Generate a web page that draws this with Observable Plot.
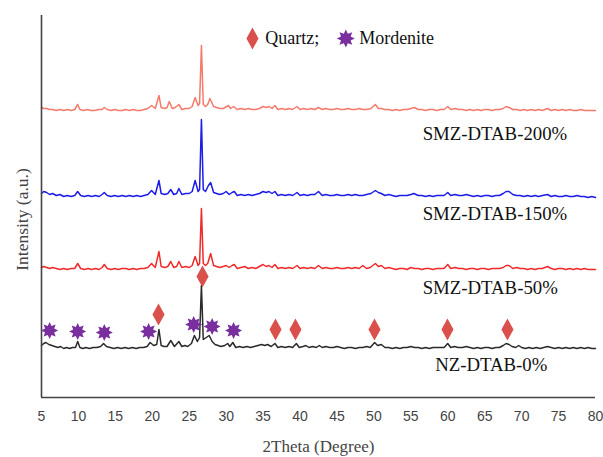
<!DOCTYPE html>
<html>
<head>
<meta charset="utf-8">
<script src="https://cdn.jsdelivr.net/npm/d3@7"></script>
<script src="https://cdn.jsdelivr.net/npm/@observablehq/plot@0.6"></script>
<style>
  html, body { margin: 0; padding: 0; background: #ffffff; }
  #chart svg { display: block; }
</style>
</head>
<body>
<div id="chart"></div>
<script>
// ---- Data (2θ in degrees, intensity in arbitrary units incl. vertical offset) ----
const xTicks = [5, 10, 15, 20, 25, 30, 35, 40, 45, 50, 55, 60, 65, 70, 75, 80];

const seriesNames = ["NZ-DTAB-0%", "SMZ-DTAB-50%", "SMZ-DTAB-150%", "SMZ-DTAB-200%"];

const nz0 = [[5,52],[5.3,54],[5.6,55],[6,53],[6.4,52],[6.8,51],[7.2,50],[7.6,51],[8,49],[8.4,50],[8.8,49],[9.2,50],[9.6,50],[9.9,56],[10.2,50],[10.6,49],[11,50],[11.5,49],[12,50],[12.5,50],[13,51],[13.4,54],[13.8,51],[14.3,50],[14.8,49],[15.3,50],[15.8,49],[16.3,50],[16.8,49],[17.3,50],[17.8,49],[18.3,50],[18.8,50],[19.3,51],[19.7,55],[20.2,52],[20.6,53],[20.9,68],[21.2,52],[21.6,51],[22,51],[22.5,57],[23,51],[23.6,56],[24,51],[24.4,52],[24.8,51],[25.3,54],[25.7,62],[26.1,56],[26.4,60],[26.65,112],[26.9,58],[27.3,60],[27.7,62],[28.1,56],[28.5,53],[28.9,52],[29.3,51],[29.8,52],[30.2,54],[30.5,51],[30.9,55],[31.3,50],[31.8,51],[32.3,50],[32.8,51],[33.3,50],[33.8,51],[34.3,52],[34.8,53],[35.2,52],[35.6,53],[36.1,51],[36.6,54],[37,50],[37.5,51],[38,50],[38.5,51],[39,50],[39.5,54],[39.9,50],[40.4,51],[40.8,52],[41.2,50],[41.7,51],[42.2,50],[42.6,52],[43,50],[43.5,51],[44,50],[44.5,50],[45,51],[45.5,50],[46,49],[46.5,50],[47,50],[47.5,49],[48,50],[48.5,50],[49,51],[49.5,50],[50.1,55],[50.5,52],[51,53],[51.5,50],[52,50],[52.5,49],[53,50],[53.5,49],[54,50],[54.5,50],[55,51],[55.5,50],[56,50],[56.5,49],[57,50],[57.5,49],[58,50],[58.5,50],[59,50],[59.5,50],[60,54],[60.4,50],[60.9,51],[61.4,50],[62,50],[62.5,51],[63,50],[63.5,49],[64,50],[64.5,49],[65,50],[65.5,50],[66,49],[66.5,50],[67,50],[67.5,52],[67.9,54],[68.3,53],[68.7,51],[69.2,50],[69.6,52],[70,50],[70.5,49],[71,50],[71.5,49],[72,50],[72.5,49],[73,50],[73.5,51],[74,50],[74.5,49],[75,50],[75.5,49],[76,50],[76.5,49],[77,50],[77.5,49],[78,50],[78.5,49],[79,50],[79.5,49],[80,49]];

const smz50 = [[5,130],[5.3,131],[5.7,130],[6.1,129],[6.5,130],[7,129],[7.5,128],[8,129],[8.5,128],[9,129],[9.5,129],[9.9,134],[10.3,129],[10.8,128],[11.3,129],[11.8,128],[12.3,129],[12.8,128],[13.2,130],[13.5,133],[13.9,129],[14.4,128],[14.9,129],[15.4,128],[15.9,129],[16.4,129],[16.9,128],[17.4,129],[17.9,128],[18.4,129],[18.9,129],[19.4,130],[19.9,134],[20.4,130],[20.9,146],[21.2,131],[21.7,130],[22.1,131],[22.5,136],[22.9,130],[23.3,131],[23.6,136],[24,130],[24.5,131],[25,130],[25.4,132],[25.8,141],[26.2,132],[26.4,134],[26.65,189],[26.9,134],[27.2,132],[27.5,134],[27.9,144],[28.3,132],[28.7,131],[29.1,130],[29.6,131],[30,132],[30.4,130],[30.8,132],[31.1,133],[31.5,129],[32,130],[32.5,131],[33,129],[33.5,130],[34,129],[34.5,131],[35,133],[35.4,131],[35.8,132],[36.2,130],[36.6,133],[37,129],[37.5,130],[38,129],[38.5,130],[39,129],[39.6,132],[40,129],[40.5,130],[41,129],[41.5,130],[42,129],[42.5,132],[43,129],[43.5,130],[44,129],[44.5,129],[45,130],[45.5,129],[46,129],[46.5,130],[47,129],[47.5,130],[48,129],[48.5,132],[49,129],[49.5,130],[50.2,134],[50.6,131],[51,132],[51.5,129],[52,130],[52.5,129],[53,128],[53.5,129],[54,129],[54.5,128],[55,130],[55.5,129],[56,129],[56.5,128],[57,129],[57.5,129],[58,128],[58.5,129],[59,129],[59.5,129],[60,133],[60.4,129],[61,130],[61.5,129],[62,129],[62.5,128],[63,129],[63.5,129],[64,128],[64.5,129],[65,129],[65.5,128],[66,129],[66.5,129],[67,129],[67.5,130],[67.9,132],[68.3,132],[68.8,129],[69.3,130],[69.8,129],[70.3,129],[70.8,128],[71.3,129],[71.8,128],[72.3,129],[72.8,129],[73.5,131],[74,129],[74.5,128],[75,129],[75.5,129],[76,128],[76.5,129],[77,128],[77.5,129],[78,128],[78.5,129],[79,128],[79.5,128],[80,128]];

const smz150 = [[5,204],[5.3,206],[5.7,205],[6.1,203],[6.5,204],[7,202],[7.5,203],[8,201],[8.5,202],[9,201],[9.5,202],[9.9,206],[10.3,202],[10.8,201],[11.3,202],[11.8,201],[12.3,202],[12.8,201],[13.2,203],[13.5,205],[13.9,202],[14.4,201],[14.9,202],[15.4,201],[15.9,202],[16.4,201],[16.9,202],[17.4,201],[17.9,202],[18.4,201],[18.9,202],[19.4,203],[19.9,207],[20.4,203],[20.9,217],[21.2,204],[21.7,203],[22.1,204],[22.5,208],[22.9,203],[23.3,204],[23.6,209],[24,203],[24.5,204],[25,204],[25.4,206],[25.8,217],[26.2,206],[26.4,208],[26.65,278],[26.9,208],[27.2,206],[27.6,212],[27.9,215],[28.3,205],[28.7,204],[29.1,203],[29.6,204],[30,206],[30.4,203],[30.8,205],[31.1,206],[31.5,202],[32,203],[32.5,202],[33,203],[33.5,202],[34,203],[34.5,204],[35,206],[35.4,205],[35.8,206],[36.2,204],[36.6,206],[37,202],[37.5,203],[38,202],[38.5,203],[39,202],[39.6,205],[40,202],[40.5,203],[41,202],[41.5,203],[42,203],[42.5,206],[43,202],[43.5,203],[44,202],[44.5,202],[45,203],[45.5,202],[46,202],[46.5,203],[47,202],[47.5,203],[48,202],[48.5,202],[49,203],[49.6,204],[50.2,207],[50.6,205],[51,204],[51.5,202],[52,203],[52.5,202],[53,201],[53.5,202],[54,202],[54.5,202],[55,203],[55.4,204],[56,202],[56.5,202],[57,201],[57.5,202],[58,201],[58.5,202],[59,202],[59.5,202],[60,205],[60.4,202],[61,203],[61.5,202],[62,202],[62.5,203],[63,202],[63.5,201],[64,202],[64.5,201],[65,202],[65.5,202],[66,201],[66.5,202],[67,202],[67.5,204],[67.9,206],[68.3,206],[68.8,203],[69.3,202],[69.8,202],[70.3,201],[70.8,202],[71.3,201],[71.8,202],[72.3,201],[72.8,202],[73.5,203],[74,201],[74.5,202],[75,201],[75.5,201],[76,202],[76.5,201],[77,201],[77.5,202],[78,201],[78.5,201],[79,200],[79.5,201],[80,200]];

const smz200 = [[5,290],[5.3,289],[5.7,289],[6.1,288],[6.5,288],[7,287],[7.5,288],[8,287],[8.5,288],[9,287],[9.5,288],[9.9,293],[10.2,288],[10.7,287],[11.2,288],[11.7,287],[12.2,287],[12.7,288],[13.2,288],[13.5,290],[13.9,288],[14.4,287],[14.9,288],[15.4,287],[15.9,287],[16.4,288],[16.9,287],[17.4,288],[17.9,287],[18.4,287],[18.9,288],[19.4,289],[19.9,292],[20.4,289],[20.9,302],[21.2,290],[21.7,289],[22,290],[22.3,296],[22.7,289],[23.1,290],[23.6,293],[24,288],[24.5,289],[25,289],[25.4,291],[25.8,300],[26.2,292],[26.4,294],[26.65,352],[26.9,293],[27.2,291],[27.5,293],[27.8,299],[28.3,291],[28.7,290],[29.1,289],[29.6,289],[30.3,292],[30.6,289],[31,291],[31.5,288],[32,289],[32.5,288],[33,289],[33.5,288],[34,288],[34.5,289],[35,291],[35.4,290],[35.8,291],[36.2,289],[36.6,292],[37,288],[37.5,289],[38,288],[38.5,289],[39,288],[39.6,291],[40,288],[40.5,289],[41,288],[41.5,289],[42,288],[42.5,290],[43,288],[43.5,289],[44,288],[44.5,288],[45,289],[45.5,288],[46,288],[46.5,289],[47,288],[47.5,288],[48,289],[48.5,288],[49,288],[49.6,289],[50.2,293],[50.6,289],[51,289],[51.5,288],[52,288],[52.5,287],[53,288],[53.5,287],[54,288],[54.5,288],[55,289],[55.5,290],[56,288],[56.5,288],[57,287],[57.5,288],[58,288],[58.5,287],[59,288],[59.5,288],[60,291],[60.4,288],[61,289],[61.5,288],[62,288],[62.5,287],[63,288],[63.5,287],[64,288],[64.5,287],[65,288],[65.5,288],[66,287],[66.5,288],[67,288],[67.5,289],[67.9,291],[68.3,290],[68.8,288],[69.3,288],[69.8,287],[70.3,288],[70.8,287],[71.3,288],[71.8,287],[72.3,288],[72.8,287],[73.5,289],[74,287],[74.5,288],[75,287],[75.5,288],[76,287],[76.5,288],[77,287],[77.5,287],[78,288],[78.5,287],[79,287],[79.5,287],[80,287]];

// Phase markers on the NZ-DTAB-0% pattern
const quartzTheta = [20.84, 26.8, 36.68, 39.38, 50.08, 59.96, 68.08];
const quartzLevel = [83, 121, 68, 68, 68, 68, 68];
const mordeniteTheta = [6.1, 9.9, 13.5, 19.5, 25.6, 28.1, 31.0];
const mordeniteLevel = [67, 66, 65, 66, 73, 71, 67];

const legendNames = ["Quartz;", "Mordenite"];

// ---- Layout / style (kept separate from values) ----
const colors = {"NZ-DTAB-0%": "#2a2a2a", "SMZ-DTAB-50%": "#f02a2a", "SMZ-DTAB-150%": "#1c1ce8", "SMZ-DTAB-200%": "#f57a6c"};
const labelPos = {"NZ-DTAB-0%": [58.3, 33], "SMZ-DTAB-50%": [56.6, 110], "SMZ-DTAB-150%": [56.6, 184], "SMZ-DTAB-200%": [56.6, 264]};
const serif = "'Liberation Serif', 'Times New Roman', serif";
const sans = "'Liberation Sans', Arial, sans-serif";

const seriesData = [nz0, smz50, smz150, smz200];
const rows = [];
seriesData.forEach((arr, i) => arr.forEach(([t, v]) => rows.push({series: seriesNames[i], theta: t, intensity: v})));

const quartz = quartzTheta.map((t, i) => ({theta: t, level: quartzLevel[i]}));
const mordenite = mordeniteTheta.map((t, i) => ({theta: t, level: mordeniteLevel[i]}));
const labels = seriesNames.map(n => ({name: n, theta: labelPos[n][0], level: labelPos[n][1]}));

// custom symbols
const tallDiamond = {
  draw(ctx, size) {
    const r = Math.sqrt(size / Math.PI);
    const w = r * 0.55;
    ctx.moveTo(0, -r); ctx.lineTo(w, 0); ctx.lineTo(0, r); ctx.lineTo(-w, 0); ctx.closePath();
  }
};
const star8 = {
  draw(ctx, size) {
    const R = Math.sqrt(size / Math.PI);
    const ri = R * 0.58;
    const n = 8;
    for (let k = 0; k < 2 * n; k++) {
      const a = (k * Math.PI) / n - Math.PI / 2;
      const rr = k % 2 === 0 ? R : ri;
      const px = rr * Math.cos(a), py = rr * Math.sin(a);
      if (k === 0) ctx.moveTo(px, py); else ctx.lineTo(px, py);
    }
    ctx.closePath();
  }
};

const diamondColor = "#d9504c";
const starColor = "#7a2f9e";

const legendRow = [
  {kind: "q", theta: 33.56, level: 359, text: legendNames[0], ttheta: 35.3},
  {kind: "m", theta: 46.2, level: 359, text: legendNames[1], ttheta: 48.0}
];

const chart = Plot.plot({
  width: 603,
  height: 457,
  marginLeft: 41,
  marginRight: 8,
  marginTop: 15,
  marginBottom: 60,
  style: {background: "transparent"},
  x: {domain: [5, 80]},
  y: {domain: [0, 382], axis: null},
  marks: [
    Plot.axisX({ticks: xTicks, tickSize: 0, tickPadding: 14, fontSize: 14, fontFamily: sans, fill: "#444", tickFormat: d => String(d), label: null}),
    Plot.line(rows, {x: "theta", y: "intensity", z: "series", stroke: d => colors[d.series], strokeWidth: 1.5, strokeLinejoin: "round", curve: "linear"}),
    Plot.ruleX([5], {y1: 0, y2: 382, stroke: "#444", strokeWidth: 1.6}),
    Plot.ruleY([0], {x1: 5, x2: 80, stroke: "#444", strokeWidth: 1.6}),
    Plot.dot(quartz, {x: "theta", y: "level", symbol: tallDiamond, r: 11, fill: diamondColor, stroke: "none"}),
    Plot.dot(mordenite, {x: "theta", y: "level", symbol: star8, r: 8.5, fill: starColor, stroke: "none"}),
    Plot.dot(legendRow.filter(d => d.kind === "q"), {x: "theta", y: "level", symbol: tallDiamond, r: 11, fill: diamondColor, stroke: "none"}),
    Plot.dot(legendRow.filter(d => d.kind === "m"), {x: "theta", y: "level", symbol: star8, r: 9, fill: starColor, stroke: "none"}),
    Plot.text(legendRow, {x: "ttheta", y: "level", text: "text", textAnchor: "start", fontFamily: serif, fontSize: 18, fill: "#111"}),
    Plot.text(labels, {x: "theta", y: "level", text: "name", textAnchor: "start", fontFamily: serif, fontSize: 18.8, fill: "#111"}),
    Plot.text(["2Theta (Degree)"], {frameAnchor: "bottom", dy: 49, lineAnchor: "middle", textAnchor: "middle", fontFamily: serif, fontSize: 17, fill: "#444"}),
    Plot.text(["Intensity (a.u.)"], {frameAnchor: "left", dx: -19, dy: 13, rotate: -90, textAnchor: "middle", lineAnchor: "middle", fontFamily: serif, fontSize: 17.5, fill: "#444"})
  ]
});

document.getElementById("chart").appendChild(chart);
</script>
</body>
</html>
